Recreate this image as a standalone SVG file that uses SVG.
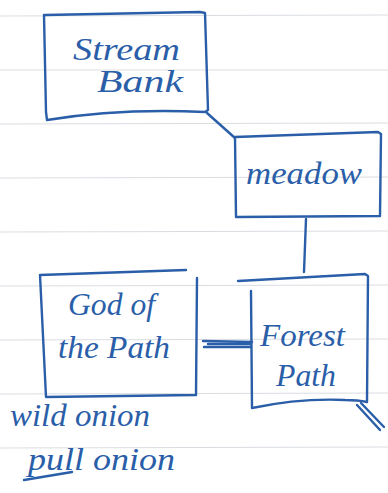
<svg xmlns="http://www.w3.org/2000/svg" width="388" height="493" viewBox="0 0 388 493">
<style>
.paper{stroke:#d9dde2;stroke-width:1.2}
.box{fill:none;stroke:#2a5ea8;stroke-width:2.4;stroke-linejoin:round;stroke-linecap:round}
.edge{fill:none;stroke:#2a5ea8;stroke-width:2.4;stroke-linecap:round}
.t{font-family:"Liberation Serif",serif;font-style:italic;fill:#2a5ea8;font-size:31px}
</style>
<rect width="388" height="493" fill="#ffffff"/>
<g id="paper">
<line class="paper" x1="0" y1="16" x2="388" y2="15"/>
<line class="paper" x1="0" y1="70" x2="388" y2="70"/>
<line class="paper" x1="0" y1="124" x2="388" y2="123"/>
<line class="paper" x1="0" y1="178" x2="388" y2="177"/>
<line class="paper" x1="0" y1="232" x2="388" y2="231"/>
<line class="paper" x1="0" y1="286" x2="388" y2="285"/>
<line class="paper" x1="0" y1="340" x2="388" y2="339"/>
<line class="paper" x1="0" y1="394" x2="388" y2="393"/>
<line class="paper" x1="0" y1="448" x2="388" y2="447"/>
</g>
<g id="connectors">
<path class="edge" d="M207 113 L235 138"/>
<path class="edge" d="M306 219 L304 272"/>
<path class="edge" d="M203 341 L252 342" stroke-width="2"/>
<path class="edge" d="M204 347 L251 347" stroke-width="2"/>
<path class="edge" d="M208 344 L250 344" stroke="#1f4f96" stroke-width="5"/>
<path class="edge" d="M357 405 L380 430"/>
<path class="edge" d="M361 403 L384 427"/>
</g>
<g id="stream-bank">
<path class="box" d="M45 15 L200 12 L205 13 L208 110 L205 112 Q120 108 47 120 L46 112 L44 15"/>
<text class="t" x="73" y="60" textLength="107" lengthAdjust="spacingAndGlyphs">Stream</text>
<text class="t" x="97" y="92" textLength="86" lengthAdjust="spacingAndGlyphs">Bank</text>
</g>
<g id="meadow">
<path class="box" d="M235 137 L378 132 L381 134 L380 216 L236 217 L235 137"/>
<text class="t" x="246" y="184" textLength="116" lengthAdjust="spacingAndGlyphs">meadow</text>
</g>
<g id="god-of-the-path">
<path class="box" d="M40 275 L186 270 M40 275 L46 397 L195 395 M197 278 L196 395"/>
<text class="t" x="68" y="315" textLength="87" lengthAdjust="spacingAndGlyphs">God of</text>
<text class="t" x="58" y="358" textLength="112" lengthAdjust="spacingAndGlyphs">the Path</text>
</g>
<g id="forest-path">
<path class="box" d="M238 281 L365 274 L368 276 L367 402 Q358 400 345 400 Q300 398 252 408 L251 291"/>
<text class="t" x="260" y="346" textLength="85" lengthAdjust="spacingAndGlyphs">Forest</text>
<text class="t" x="276" y="386" textLength="60" lengthAdjust="spacingAndGlyphs">Path</text>
</g>
<g id="notes">
<text class="t" x="10" y="426" textLength="140" lengthAdjust="spacingAndGlyphs">wild onion</text>
<text class="t" x="28" y="470" textLength="147" lengthAdjust="spacingAndGlyphs">pull onion</text>
<path class="edge" d="M24 480 L72 472"/>
</g>
</svg>
